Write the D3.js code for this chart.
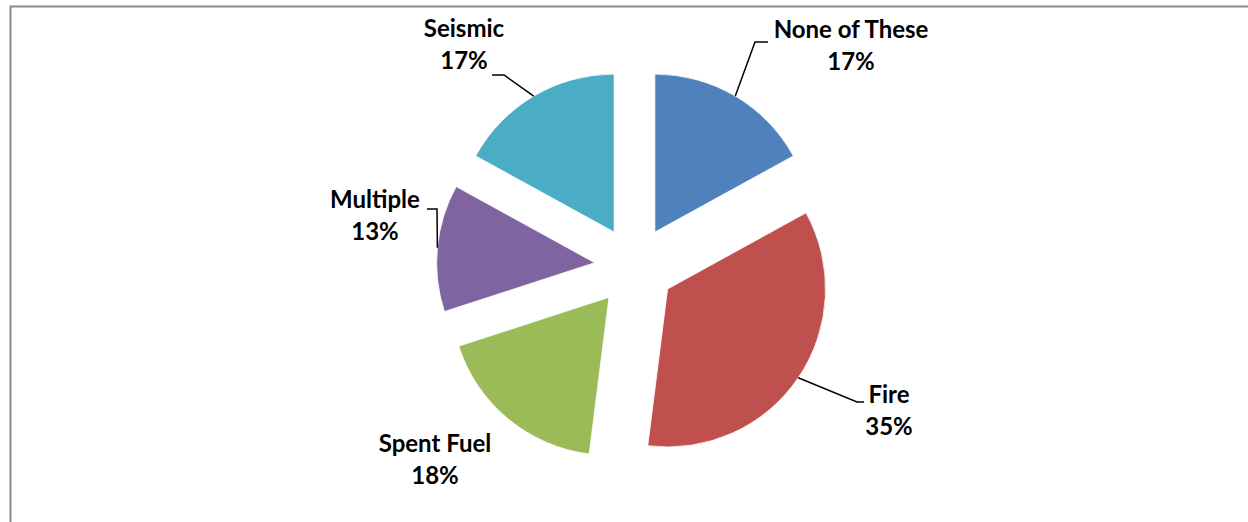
<!DOCTYPE html>
<html>
<head>
<meta charset="utf-8">
<script src="https://cdn.jsdelivr.net/npm/d3@7/dist/d3.min.js"></script>
<style>
  html, body { margin: 0; padding: 0; background: #ffffff; }
  svg { display: block; }
  .lbl { font-family: Lato, "Open Sans", sans-serif; font-weight: 700; font-size: 24px; fill: #000; }
</style>
</head>
<body>
<svg id="chart" width="1248" height="522"></svg>
<script>
// Share of responses by category (percent), clockwise from 12 o'clock
const categories = ["None of These", "Fire", "Spent Fuel", "Multiple", "Seismic"];
const values = [17, 35, 18, 13, 17];
const valueLabels = ["17%", "35%", "18%", "13%", "17%"];
const colors = ["#4F81BD", "#C0504D", "#9BBB59", "#8064A2", "#4BACC6"];

// Label placement: text centre x, first baseline y, and leader elbow / end
const labelLayout = [
  { x: 851, y: 38, elbow: [755, 42], end: [768, 42] },
  { x: 889, y: 403, elbow: [857, 402], end: [864, 402] },
  { x: 435, y: 452, elbow: null, end: null },
  { x: 375, y: 208, elbow: [437, 209], end: [427, 209] },
  { x: 464, y: 37, elbow: [504, 75], end: [492, 75] }
];

const W = 1248, H = 522;
const cx = 634.5, cy = 266.5;
const radius = 158;
const explode = 40;
const lineGap = 32;

const svg = d3.select("#chart");

// chart area frame
svg.append("rect")
  .attr("x", 10.5).attr("y", 6.5)
  .attr("width", W + 20).attr("height", H + 20)
  .attr("fill", "#ffffff")
  .attr("stroke", "#888888")
  .attr("stroke-width", 2);

const data = categories.map((c, i) => ({ name: c, value: values[i], label: valueLabels[i], color: colors[i], layout: labelLayout[i] }));

const pie = d3.pie().value(d => d.value).sort(null);
const arcs = pie(data);

const arc = d3.arc().innerRadius(0).outerRadius(radius);

const g = svg.append("g").attr("transform", `translate(${cx},${cy})`);

function offsetOf(a) {
  const mid = (a.startAngle + a.endAngle) / 2;
  return [Math.sin(mid) * explode, -Math.cos(mid) * explode];
}

g.selectAll("path.slice")
  .data(arcs)
  .join("path")
  .attr("class", "slice")
  .attr("transform", d => { const o = offsetOf(d); return `translate(${o[0]},${o[1]})`; })
  .attr("d", arc)
  .attr("fill", d => d.data.color)
  .attr("stroke", "#ffffff")
  .attr("stroke-width", 0.8);

// leader lines from the outer arc midpoint of each slice
arcs.forEach(a => {
  const L = a.data.layout;
  if (!L.elbow) return;
  const mid = (a.startAngle + a.endAngle) / 2;
  const o = offsetOf(a);
  const sx = cx + o[0] + Math.sin(mid) * radius;
  const sy = cy + o[1] - Math.cos(mid) * radius;
  svg.append("path")
    .attr("d", d3.line()([[sx, sy], L.elbow, L.end]))
    .attr("fill", "none")
    .attr("stroke", "#000")
    .attr("stroke-width", 1.5);
});

// two-line data labels
arcs.forEach(a => {
  const L = a.data.layout;
  const t = svg.append("text").attr("class", "lbl").attr("text-anchor", "middle");
  t.append("tspan").attr("x", L.x).attr("y", L.y).text(a.data.name);
  t.append("tspan").attr("x", L.x).attr("y", L.y + lineGap).text(a.data.label);
});
</script>
</body>
</html>
